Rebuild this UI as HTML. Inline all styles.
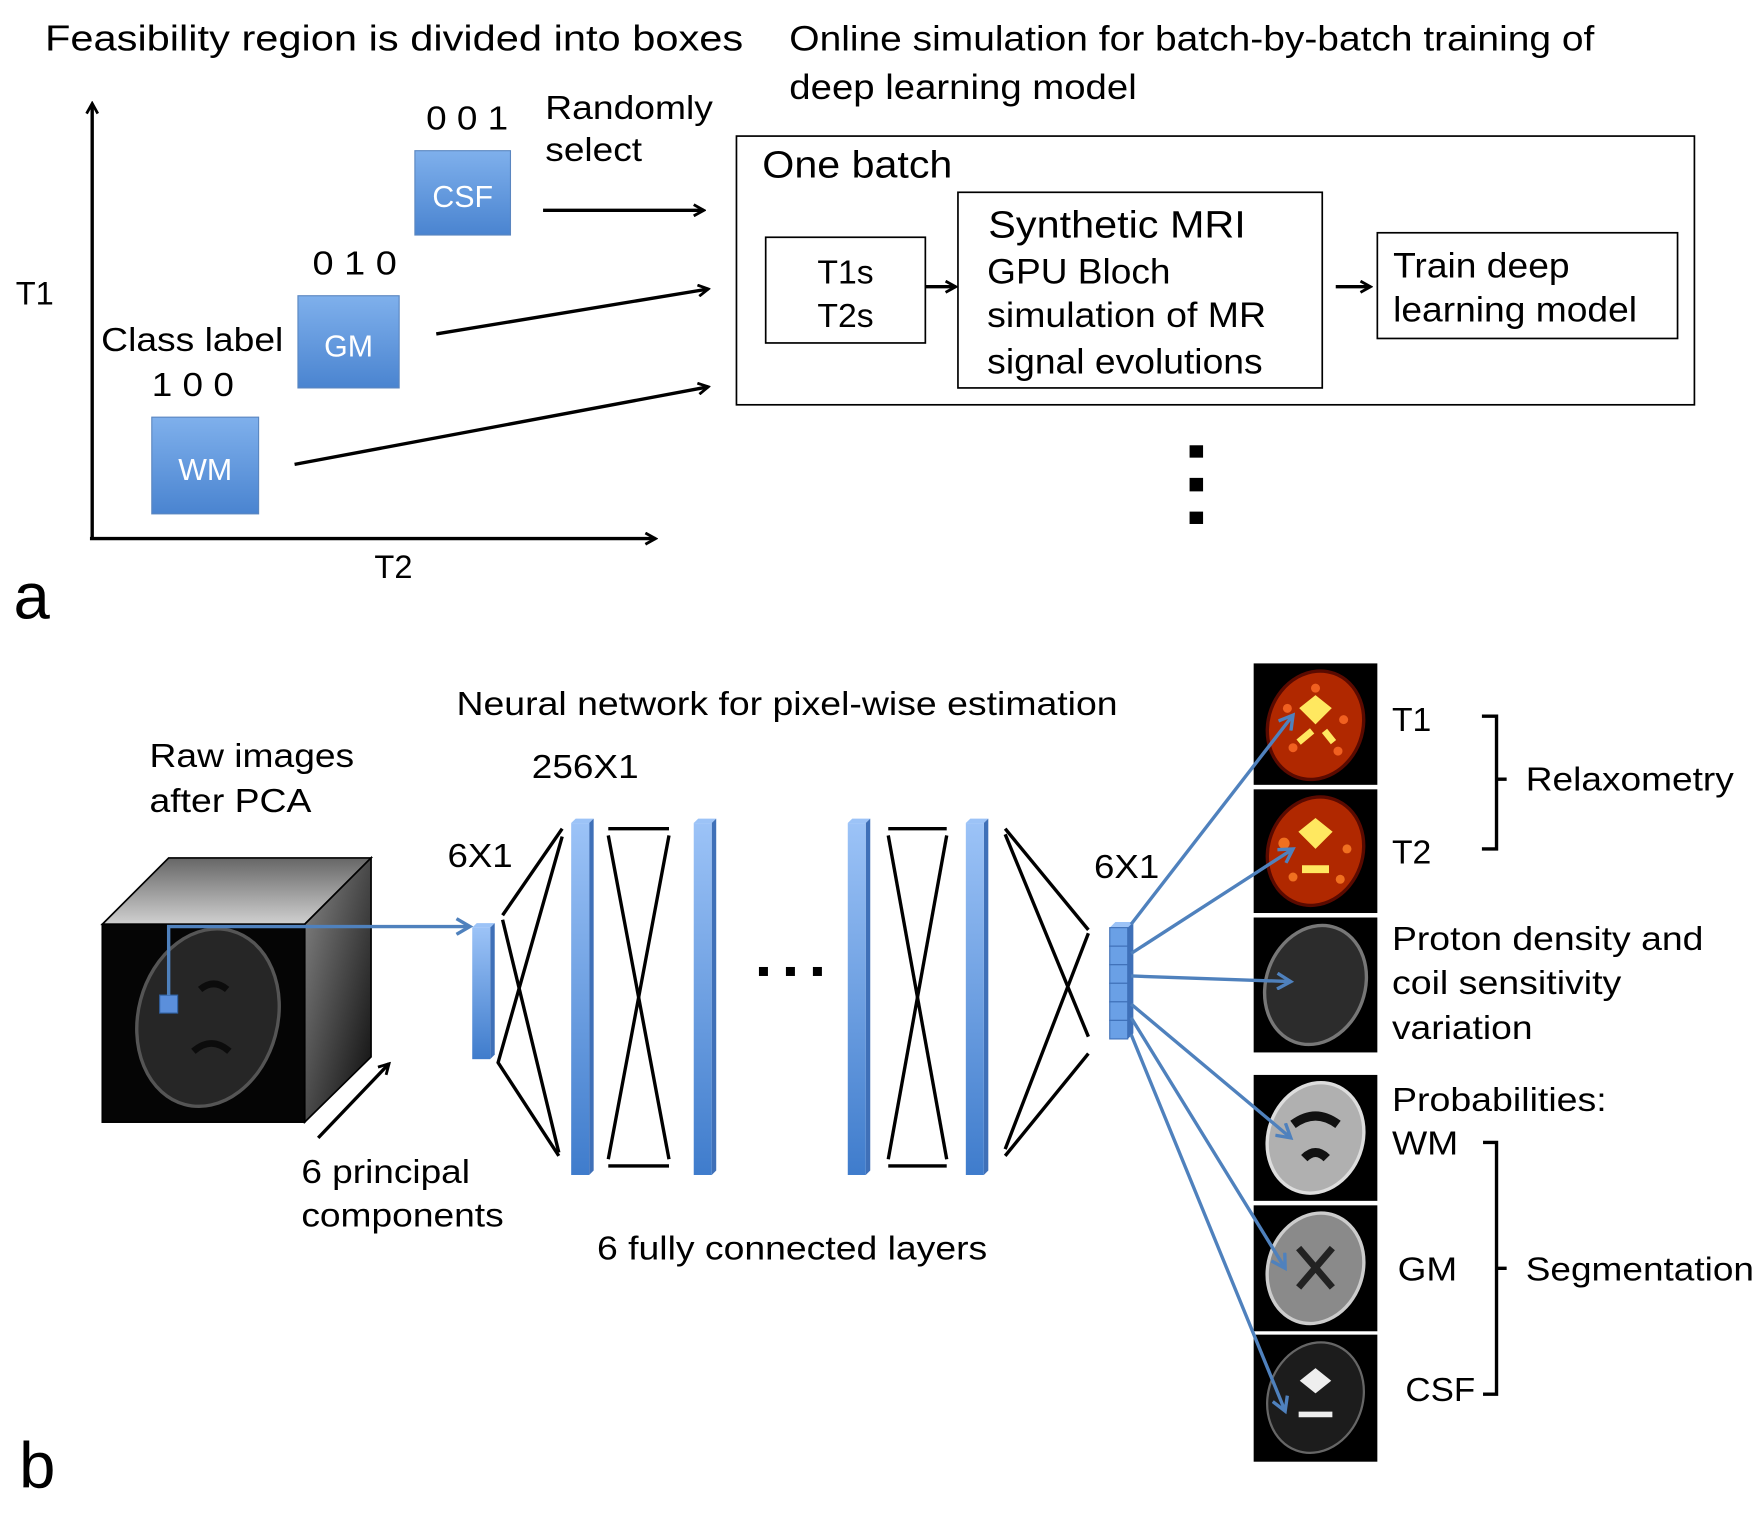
<!DOCTYPE html>
<html><head><meta charset="utf-8"><style>
html,body{margin:0;padding:0;background:#fff}
svg{display:block}
text{font-family:"Liberation Sans",sans-serif;fill:#000}
</style></head><body>
<svg width="1763" height="1513" viewBox="0 0 1568 1345.6" xmlns="http://www.w3.org/2000/svg">
<defs>
<linearGradient id="bg" x1="0" y1="0" x2="0" y2="1"><stop offset="0" stop-color="#7fb0ec"/><stop offset="1" stop-color="#4a84d0"/></linearGradient>
<linearGradient id="bar" x1="0" y1="0" x2="0" y2="1"><stop offset="0" stop-color="#9cc3f7"/><stop offset="1" stop-color="#3f7ccc"/></linearGradient>
<linearGradient id="top" x1="0" y1="0" x2="0" y2="1"><stop offset="0" stop-color="#666"/><stop offset="1" stop-color="#d0d0d0"/></linearGradient>
<linearGradient id="side" x1="0" y1="0" x2="1" y2="1"><stop offset="0" stop-color="#888"/><stop offset="1" stop-color="#0a0a0a"/></linearGradient>
<marker id="ak" markerWidth="12" markerHeight="12" refX="10" refY="6" orient="auto" markerUnits="userSpaceOnUse"><path d="M1,1 L10,6 L1,11" fill="none" stroke="#000" stroke-width="2.5"/></marker>
<marker id="ab" markerWidth="16" markerHeight="16" refX="13" refY="8" orient="auto" markerUnits="userSpaceOnUse"><path d="M1,1 L13,8 L1,15" fill="none" stroke="#4f81bd" stroke-width="3"/></marker>
</defs>

<!-- Part a -->
<text x="40" y="45" font-size="32" textLength="621" lengthAdjust="spacingAndGlyphs">Feasibility region is divided into boxes</text>
<text x="702" y="45" font-size="31" textLength="716" lengthAdjust="spacingAndGlyphs">Online simulation for batch-by-batch training of</text>
<text x="702" y="88" font-size="31" textLength="309" lengthAdjust="spacingAndGlyphs">deep learning model</text>
<line x1="82" y1="480" x2="82" y2="92" stroke="#000" stroke-width="3" marker-end="url(#ak)"/>
<line x1="80" y1="479" x2="583" y2="479" stroke="#000" stroke-width="3" marker-end="url(#ak)"/>
<text x="14" y="271" font-size="29">T1</text>
<text x="333" y="514" font-size="29">T2</text>
<text x="12" y="550" font-size="58">a</text>

<rect x="369" y="134" width="85" height="75" fill="url(#bg)" stroke="#5a86c0"/>
<text x="411.5" y="184" font-size="27" text-anchor="middle" style="fill:#fff">CSF</text>
<rect x="265" y="263" width="90" height="82" fill="url(#bg)" stroke="#5a86c0"/>
<text x="310" y="317" font-size="27" text-anchor="middle" style="fill:#fff">GM</text>
<rect x="135" y="371" width="95" height="86" fill="url(#bg)" stroke="#5a86c0"/>
<text x="182.5" y="427" font-size="27" text-anchor="middle" style="fill:#fff">WM</text>
<text x="379" y="115" font-size="30" textLength="73" lengthAdjust="spacingAndGlyphs">0 0 1</text>
<text x="278" y="244" font-size="30" textLength="75" lengthAdjust="spacingAndGlyphs">0 1 0</text>
<text x="90" y="312" font-size="30" textLength="162" lengthAdjust="spacingAndGlyphs">Class label</text>
<text x="135" y="352" font-size="30" textLength="73" lengthAdjust="spacingAndGlyphs">1 0 0</text>
<text x="485" y="106" font-size="30" textLength="149" lengthAdjust="spacingAndGlyphs">Randomly</text>
<text x="485" y="143" font-size="30" textLength="86" lengthAdjust="spacingAndGlyphs">select</text>
<line x1="483" y1="187" x2="626" y2="187" stroke="#000" stroke-width="3" marker-end="url(#ak)"/>
<line x1="388" y1="297" x2="630" y2="257" stroke="#000" stroke-width="3" marker-end="url(#ak)"/>
<line x1="262" y1="413" x2="630" y2="344" stroke="#000" stroke-width="3" marker-end="url(#ak)"/>

<rect x="655" y="121" width="852" height="239" fill="none" stroke="#000" stroke-width="1.5"/>
<text x="678" y="158" font-size="34" textLength="169" lengthAdjust="spacingAndGlyphs">One batch</text>
<rect x="681" y="211" width="142" height="94" fill="none" stroke="#000" stroke-width="1.5"/>
<text x="752" y="252" font-size="30" text-anchor="middle">T1s</text>
<text x="752" y="291" font-size="30" text-anchor="middle">T2s</text>
<line x1="823" y1="255" x2="850" y2="255" stroke="#000" stroke-width="3" marker-end="url(#ak)"/>
<rect x="852" y="171" width="324" height="174" fill="none" stroke="#000" stroke-width="1.5"/>
<text x="879" y="211" font-size="34" textLength="229" lengthAdjust="spacingAndGlyphs">Synthetic MRI</text>
<text x="878" y="252" font-size="31" textLength="163" lengthAdjust="spacingAndGlyphs">GPU Bloch</text>
<text x="878" y="291" font-size="31" textLength="248" lengthAdjust="spacingAndGlyphs">simulation of MR</text>
<text x="878" y="332" font-size="31" textLength="245" lengthAdjust="spacingAndGlyphs">signal evolutions</text>
<line x1="1188" y1="255" x2="1219" y2="255" stroke="#000" stroke-width="3" marker-end="url(#ak)"/>
<rect x="1225" y="207" width="267" height="94" fill="none" stroke="#000" stroke-width="1.5"/>
<text x="1239" y="247" font-size="31" textLength="157" lengthAdjust="spacingAndGlyphs">Train deep</text>
<text x="1239" y="286" font-size="31" textLength="217" lengthAdjust="spacingAndGlyphs">learning model</text>
<rect x="1058" y="396" width="12" height="11"/>
<rect x="1058" y="425" width="12" height="12"/>
<rect x="1058" y="455" width="12" height="11"/>

<!-- Part b -->
<text x="406" y="636" font-size="30" textLength="588" lengthAdjust="spacingAndGlyphs">Neural network for pixel-wise estimation</text>
<text x="133" y="682" font-size="30" textLength="182" lengthAdjust="spacingAndGlyphs">Raw images</text>
<text x="133" y="722" font-size="30" textLength="144" lengthAdjust="spacingAndGlyphs">after PCA</text>
<text x="473" y="692" font-size="30" textLength="95" lengthAdjust="spacingAndGlyphs">256X1</text>
<text x="398" y="771" font-size="30" textLength="58" lengthAdjust="spacingAndGlyphs">6X1</text>
<text x="973" y="781" font-size="30" textLength="58" lengthAdjust="spacingAndGlyphs">6X1</text>

<!-- cube -->
<polygon points="91,822 150,763 330,763 271,822" fill="url(#top)" stroke="#000" stroke-width="1.5"/>
<polygon points="271,822 330,763 330,940 271,998" fill="url(#side)" stroke="#000" stroke-width="1.5"/>
<rect x="91" y="822" width="180" height="176" fill="#050505" stroke="#000" stroke-width="1.5"/>
<ellipse cx="185" cy="905" rx="62" ry="80" transform="rotate(15 185 905)" fill="#262626" stroke="#555" stroke-width="3"/>
<path d="M178,880 q12,-10 24,0 M172,935 q16,-14 32,0" stroke="#0c0c0c" stroke-width="6" fill="none"/>
<rect x="142" y="885" width="16" height="16" fill="#5b8fdb" stroke="#3060a0"/>
<polyline points="150,885 150,824 418,824" fill="none" stroke="#4f81bd" stroke-width="3" marker-end="url(#ab)"/>
<line x1="283" y1="1012" x2="346" y2="946" stroke="#000" stroke-width="3" marker-end="url(#ak)"/>
<text x="268" y="1052" font-size="30" textLength="150" lengthAdjust="spacingAndGlyphs">6 principal</text>
<text x="268" y="1091" font-size="30" textLength="180" lengthAdjust="spacingAndGlyphs">components</text>

<!-- layers -->
<g>
<polygon points="420,825 424,821 440,821 436,825" fill="#9cc3f7"/>
<polygon points="436,825 440,821 440,938 436,942" fill="#3f70b8"/>
<rect x="420" y="825" width="16" height="117" fill="url(#bar)"/>
</g>
<g id="b1">
<polygon points="508,732 512,728 528,728 524,732" fill="#9cc3f7"/>
<polygon points="524,732 528,728 528,1041 524,1045" fill="#3f70b8"/>
<rect x="508" y="732" width="16" height="313" fill="url(#bar)"/>
</g>
<use href="#b1" x="109"/>
<use href="#b1" x="246"/>
<use href="#b1" x="351"/>
<g stroke="#000" stroke-width="3" fill="none">
<polyline points="500,737 447,814"/><polyline points="500,744 443,945 497,1028"/><polyline points="447,818 497,1025"/>
<line x1="541" y1="737" x2="595" y2="737"/><line x1="541" y1="1037" x2="595" y2="1037"/>
<line x1="541" y1="743" x2="595" y2="1031"/><line x1="595" y1="743" x2="541" y2="1031"/>
<line x1="790" y1="737" x2="842" y2="737"/><line x1="790" y1="1037" x2="842" y2="1037"/>
<line x1="790" y1="743" x2="842" y2="1031"/><line x1="842" y1="743" x2="790" y2="1031"/>
<line x1="894" y1="737" x2="968" y2="827"/><line x1="894" y1="1028" x2="968" y2="937"/>
<line x1="894" y1="742" x2="968" y2="922"/><line x1="894" y1="1022" x2="968" y2="830"/>
</g>
<rect x="675" y="860" width="8" height="8"/><rect x="699" y="860" width="8" height="8"/><rect x="723" y="860" width="8" height="8"/>
<text x="531" y="1120" font-size="30" textLength="347" lengthAdjust="spacingAndGlyphs">6 fully connected layers</text>
<text x="17" y="1323" font-size="58">b</text>

<!-- output bar -->
<polygon points="987,825 992,820 1008,820 1003,825" fill="#9cc3f7"/>
<polygon points="1003,825 1008,820 1008,919 1003,924" fill="#3f70b8"/>
<g fill="#6aa0e6" stroke="#3f70b8" stroke-width="1">
<rect x="987" y="825" width="16" height="16.5"/><rect x="987" y="841.5" width="16" height="16.5"/><rect x="987" y="858" width="16" height="16.5"/><rect x="987" y="874.5" width="16" height="16.5"/><rect x="987" y="891" width="16" height="16.5"/><rect x="987" y="907.5" width="16" height="16.5"/>
</g>

<!-- brain images -->
<rect x="1115" y="590" width="110" height="108" fill="#000"/>
<ellipse cx="1170" cy="645" rx="42" ry="49" transform="rotate(20 1170 645)" fill="#b02800" stroke="#5a0a00" stroke-width="3"/>
<path d="M1160,630 l10,-8 l10,8 l-10,10z M1155,660 l12,-10 M1178,650 l8,10" stroke="#ffe860" stroke-width="6" fill="#ffe860"/>
<g fill="#f06020"><circle cx="1145" cy="630" r="4"/><circle cx="1195" cy="640" r="4"/><circle cx="1150" cy="665" r="4"/><circle cx="1190" cy="668" r="4"/><circle cx="1170" cy="612" r="4"/></g>
<rect x="1115" y="702" width="110" height="110" fill="#000"/>
<ellipse cx="1170" cy="757" rx="42" ry="49" transform="rotate(20 1170 757)" fill="#b02800" stroke="#5a0a00" stroke-width="3"/>
<path d="M1160,740 l10,-8 l10,8 l-10,10z M1158,773 h24" stroke="#ffe860" stroke-width="7" fill="#ffe860"/>
<g fill="#f07020"><circle cx="1142" cy="750" r="5"/><circle cx="1198" cy="755" r="4"/><circle cx="1150" cy="780" r="4"/><circle cx="1192" cy="782" r="4"/></g>
<rect x="1115" y="816" width="110" height="120" fill="#000"/>
<ellipse cx="1170" cy="876" rx="44" ry="54" transform="rotate(20 1170 876)" fill="#2c2c2c" stroke="#777" stroke-width="3"/>
<rect x="1115" y="956" width="110" height="112" fill="#000"/>
<ellipse cx="1170" cy="1012" rx="42" ry="50" transform="rotate(20 1170 1012)" fill="#b0b0b0" stroke="#ddd" stroke-width="3"/>
<path d="M1150,1000 q20,-15 40,0 M1160,1030 q10,-10 20,0" stroke="#111" stroke-width="8" fill="none"/>
<rect x="1115" y="1072" width="110" height="112" fill="#000"/>
<ellipse cx="1170" cy="1128" rx="42" ry="50" transform="rotate(20 1170 1128)" fill="#8a8a8a" stroke="#ccc" stroke-width="3"/>
<path d="M1155,1110 l30,35 M1185,1110 l-30,35" stroke="#222" stroke-width="6"/>
<rect x="1115" y="1187" width="110" height="113" fill="#000"/>
<ellipse cx="1170" cy="1243" rx="42" ry="50" transform="rotate(20 1170 1243)" fill="#1c1c1c" stroke="#666" stroke-width="2"/>
<path d="M1160,1228 l10,-8 l10,8 l-10,8z M1155,1258 h30" stroke="#eee" stroke-width="5" fill="#eee"/>

<!-- output arrows -->
<g stroke="#4f81bd" stroke-width="3" fill="none">
<line x1="1006" y1="822" x2="1150" y2="636" marker-end="url(#ab)"/>
<line x1="1006" y1="848" x2="1150" y2="755" marker-end="url(#ab)"/>
<line x1="1006" y1="868" x2="1148" y2="873" marker-end="url(#ab)"/>
<line x1="1006" y1="893" x2="1148" y2="1012" marker-end="url(#ab)"/>
<line x1="1006" y1="905" x2="1143" y2="1128" marker-end="url(#ab)"/>
<line x1="1006" y1="920" x2="1143" y2="1255" marker-end="url(#ab)"/>
</g>

<text x="1238" y="650" font-size="30">T1</text>
<text x="1238" y="768" font-size="30">T2</text>
<path d="M1318,637 h13 v118 h-13 M1331,693 h9" stroke="#000" stroke-width="3" fill="none"/>
<text x="1357" y="703" font-size="30" textLength="185" lengthAdjust="spacingAndGlyphs">Relaxometry</text>
<text x="1238" y="845" font-size="30" textLength="277" lengthAdjust="spacingAndGlyphs">Proton density and</text>
<text x="1238" y="884" font-size="30" textLength="204" lengthAdjust="spacingAndGlyphs">coil sensitivity</text>
<text x="1238" y="924" font-size="30" textLength="125" lengthAdjust="spacingAndGlyphs">variation</text>
<text x="1238" y="988" font-size="30" textLength="191" lengthAdjust="spacingAndGlyphs">Probabilities:</text>
<text x="1238" y="1027" font-size="30" textLength="59" lengthAdjust="spacingAndGlyphs">WM</text>
<text x="1243" y="1139" font-size="30" textLength="53" lengthAdjust="spacingAndGlyphs">GM</text>
<text x="1250" y="1246" font-size="30" textLength="62" lengthAdjust="spacingAndGlyphs">CSF</text>
<path d="M1319,1016 h12 v224 h-12 M1331,1128 h9" stroke="#000" stroke-width="3" fill="none"/>
<text x="1357" y="1139" font-size="30" textLength="203" lengthAdjust="spacingAndGlyphs">Segmentation</text>
</svg>
</body></html>
